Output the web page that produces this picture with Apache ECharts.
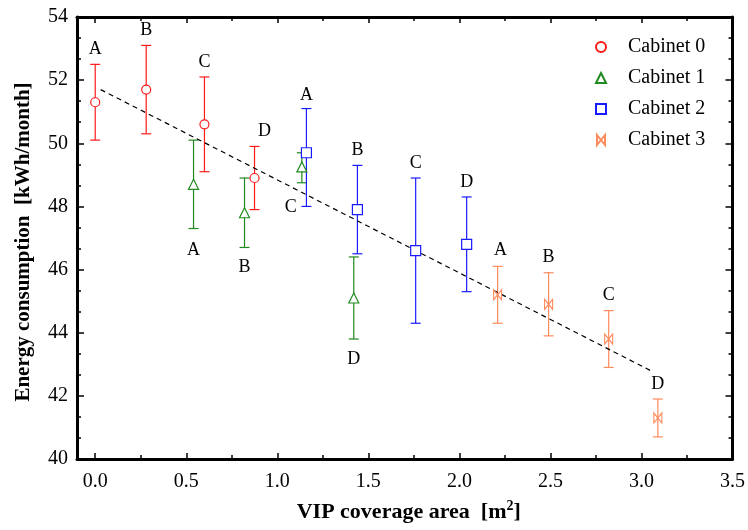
<!DOCTYPE html>
<html>
<head>
<meta charset="utf-8">
<script src="https://cdn.jsdelivr.net/npm/echarts@6/dist/echarts.min.js"></script>
<style>
  html, body { margin: 0; padding: 0; background: #fff; }
  #chart { width: 748px; height: 530px; }
</style>
</head>
<body>
<div id="chart"></div>
<script>
// Energy consumption of four refrigerated cabinets versus VIP coverage area
const cabinetNames = ['Cabinet 0', 'Cabinet 1', 'Cabinet 2', 'Cabinet 3'];
const pointLabels = ['A', 'B', 'C', 'D'];

const c0X  = [0.0, 0.28, 0.6, 0.875];
const c0Y  = [51.3, 51.7, 50.6, 48.9];
const c0Lo = [50.1, 50.3, 49.1, 47.9];
const c0Hi = [52.5, 53.1, 52.1, 49.9];

const c1X  = [0.54, 0.82, 1.135, 1.42];
const c1Y  = [48.7, 47.8, 49.25, 45.1];
const c1Lo = [47.3, 46.7, 48.75, 43.8];
const c1Hi = [50.1, 48.9, 49.7, 46.4];

const c2X  = [1.16, 1.44, 1.76, 2.04];
const c2Y  = [49.7, 47.9, 46.6, 46.8];
const c2Lo = [48.0, 46.5, 44.3, 45.3];
const c2Hi = [51.1, 49.3, 48.9, 48.3];

const c3X  = [2.21, 2.49, 2.82, 3.09];
const c3Y  = [45.2, 44.9, 43.8, 41.3];
const c3Lo = [44.3, 43.9, 42.9, 40.7];
const c3Hi = [46.1, 45.9, 44.7, 41.9];

// Linear trend through all cabinets
const trendX = [0.03, 3.05];
const trendY = [51.7, 42.8];

// Axis ticks
const xMajorTicks = [0.0, 0.5, 1.0, 1.5, 2.0, 2.5, 3.0, 3.5];
const xMinorTicks = [0.25, 0.75, 1.25, 1.75, 2.25, 2.75, 3.25];
const yTicks = [40, 42, 44, 46, 48, 50, 52, 54];

// ---- presentation ----
const SERIF = '"Liberation Serif", "Times New Roman", serif';
const colors = ['#ff1a1a', '#1f8a1f', '#1a1aff', '#ff8a5c'];
const symbols = ['circle', 'triangle', 'rect', 'path://M0,0L0,10L8,0L8,10Z'];
const symbolSizes = [9, 10, 10, [8, 10]];
const symbolFill = ['#fff', '#fff', '#fff', 'rgba(255,255,255,0)'];
// letter placement: above the upper cap or below the lower cap
const labelBelow = [false, true, false, false];
const labelNudge = {
  '0-3': [10, 0],
  '1-0': [0, 2],
  '1-2': [-11, 5],
  '2-0': [0, 2],
  '3-0': [3, -1]
};

const groups = [
  [c0X, c0Y, c0Lo, c0Hi],
  [c1X, c1Y, c1Lo, c1Hi],
  [c2X, c2Y, c2Lo, c2Hi],
  [c3X, c3Y, c3Lo, c3Hi]
];

const series = [];
groups.forEach(function (g, ci) {
  const errData = g[0].map(function (x, i) { return [x, g[2][i], g[3][i], i]; });
  series.push({
    name: cabinetNames[ci] + ' range',
    type: 'custom',
    z: 2,
    silent: true,
    data: errData,
    encode: { x: 0, y: [1, 2] },
    renderItem: function (params, api) {
      const x = api.value(0), lo = api.value(1), hi = api.value(2), idx = api.value(3);
      const pTop = api.coord([x, hi]);
      const pBot = api.coord([x, lo]);
      const cap = 5;
      const st = { stroke: colors[ci], lineWidth: 1.2 };
      const nudge = labelNudge[ci + '-' + idx] || [0, 0];
      const ty = labelBelow[ci] ? pBot[1] + 20 : pTop[1] - 15;
      return {
        type: 'group',
        children: [
          { type: 'line', shape: { x1: pTop[0], y1: pTop[1], x2: pBot[0], y2: pBot[1] }, style: st },
          { type: 'line', shape: { x1: pTop[0] - cap, y1: pTop[1], x2: pTop[0] + cap, y2: pTop[1] }, style: st },
          { type: 'line', shape: { x1: pBot[0] - cap, y1: pBot[1], x2: pBot[0] + cap, y2: pBot[1] }, style: st },
          {
            type: 'text',
            style: {
              text: pointLabels[idx],
              x: pTop[0] + nudge[0],
              y: ty + nudge[1],
              textAlign: 'center',
              textVerticalAlign: 'middle',
              fontFamily: SERIF,
              fontSize: 18,
              fill: '#000'
            }
          }
        ]
      };
    }
  });
  series.push({
    name: cabinetNames[ci],
    type: 'scatter',
    z: 4,
    symbol: symbols[ci],
    symbolSize: symbolSizes[ci],
    itemStyle: { color: symbolFill[ci], borderColor: colors[ci], borderWidth: 1.2, opacity: 1 },
    data: g[0].map(function (x, i) { return [x, g[1][i]]; })
  });
});

series.push({
  name: 'trend',
  type: 'line',
  z: 3,
  symbol: 'none',
  silent: true,
  lineStyle: { color: '#000', width: 1.2, type: [5, 4] },
  data: trendX.map(function (x, i) { return [x, trendY[i]]; })
});

const axisLineStyle = { show: true, onZero: false, lineStyle: { color: '#000', width: 3 } };
const noLine = { show: false, onZero: false };
const tickStyle = { color: '#000', width: 1.5 };
const xBase = { type: 'value', min: -0.1, max: 3.5, splitLine: { show: false } };

const option = {
  animation: false,
  backgroundColor: '#fff',
  grid: { left: 77, right: 14, top: 17, bottom: 70 },
  legend: {
    data: cabinetNames,
    orient: 'vertical',
    left: 590,
    top: 32,
    itemWidth: 10,
    itemHeight: 10,
    itemGap: 11,
    textStyle: { fontFamily: SERIF, fontSize: 20, color: '#000', lineHeight: 20, padding: [0, 0, 0, 17] }
  },
  xAxis: [
    Object.assign({}, xBase, {
      position: 'bottom',
      axisLine: axisLineStyle,
      axisTick: { show: true, inside: true, length: 6, customValues: xMajorTicks, lineStyle: tickStyle },
      axisLabel: {
        customValues: xMajorTicks,
        margin: 13,
        fontFamily: SERIF,
        fontSize: 20,
        color: '#000',
        formatter: function (v) { return Number(v).toFixed(1); }
      },
      name: 'VIP coverage area  [m{sup|2}]',
      nameLocation: 'middle',
      nameGap: 40,
      nameTextStyle: {
        fontFamily: SERIF, fontSize: 22, fontWeight: 'bold', color: '#000', lineHeight: 26,
        padding: [0, 0, 0, 8],
        rich: { sup: { fontFamily: SERIF, fontSize: 14, fontWeight: 'bold', color: '#000', verticalAlign: 'top', lineHeight: 12 } }
      }
    }),
    Object.assign({}, xBase, {
      position: 'bottom',
      axisLine: noLine,
      axisTick: { show: true, inside: true, length: 4, customValues: xMinorTicks, lineStyle: tickStyle },
      axisLabel: { show: false }
    }),
    Object.assign({}, xBase, {
      position: 'top',
      axisLine: axisLineStyle,
      axisTick: { show: true, inside: true, length: 6, customValues: xMajorTicks, lineStyle: tickStyle },
      axisLabel: { show: false }
    }),
    Object.assign({}, xBase, {
      position: 'top',
      axisLine: noLine,
      axisTick: { show: true, inside: true, length: 4, customValues: xMinorTicks, lineStyle: tickStyle },
      axisLabel: { show: false }
    })
  ],
  yAxis: [
    {
      type: 'value', min: yTicks[0], max: yTicks[yTicks.length - 1], interval: 2,
      position: 'left',
      axisLine: axisLineStyle,
      axisTick: { show: true, inside: true, length: 7, lineStyle: tickStyle },
      minorTick: { show: true, splitNumber: 3, length: 4, lineStyle: tickStyle },
      splitLine: { show: false },
      axisLabel: { margin: 9, fontFamily: SERIF, fontSize: 20, color: '#000' },
      name: 'Energy consumption  [kWh/month]',
      nameLocation: 'middle',
      nameGap: 43,
      nameTextStyle: { fontFamily: SERIF, fontSize: 21, fontWeight: 'bold', color: '#000', padding: [0, 8, 0, 0] }
    },
    {
      type: 'value', min: yTicks[0], max: yTicks[yTicks.length - 1], interval: 2,
      position: 'right',
      axisLine: axisLineStyle,
      axisTick: { show: true, inside: true, length: 7, lineStyle: tickStyle },
      minorTick: { show: true, splitNumber: 3, length: 4, lineStyle: tickStyle },
      splitLine: { show: false },
      axisLabel: { show: false }
    }
  ],
  series: series
};

const chart = echarts.init(document.getElementById('chart'), null, { renderer: 'canvas' });
chart.setOption(option);
</script>
</body>
</html>
